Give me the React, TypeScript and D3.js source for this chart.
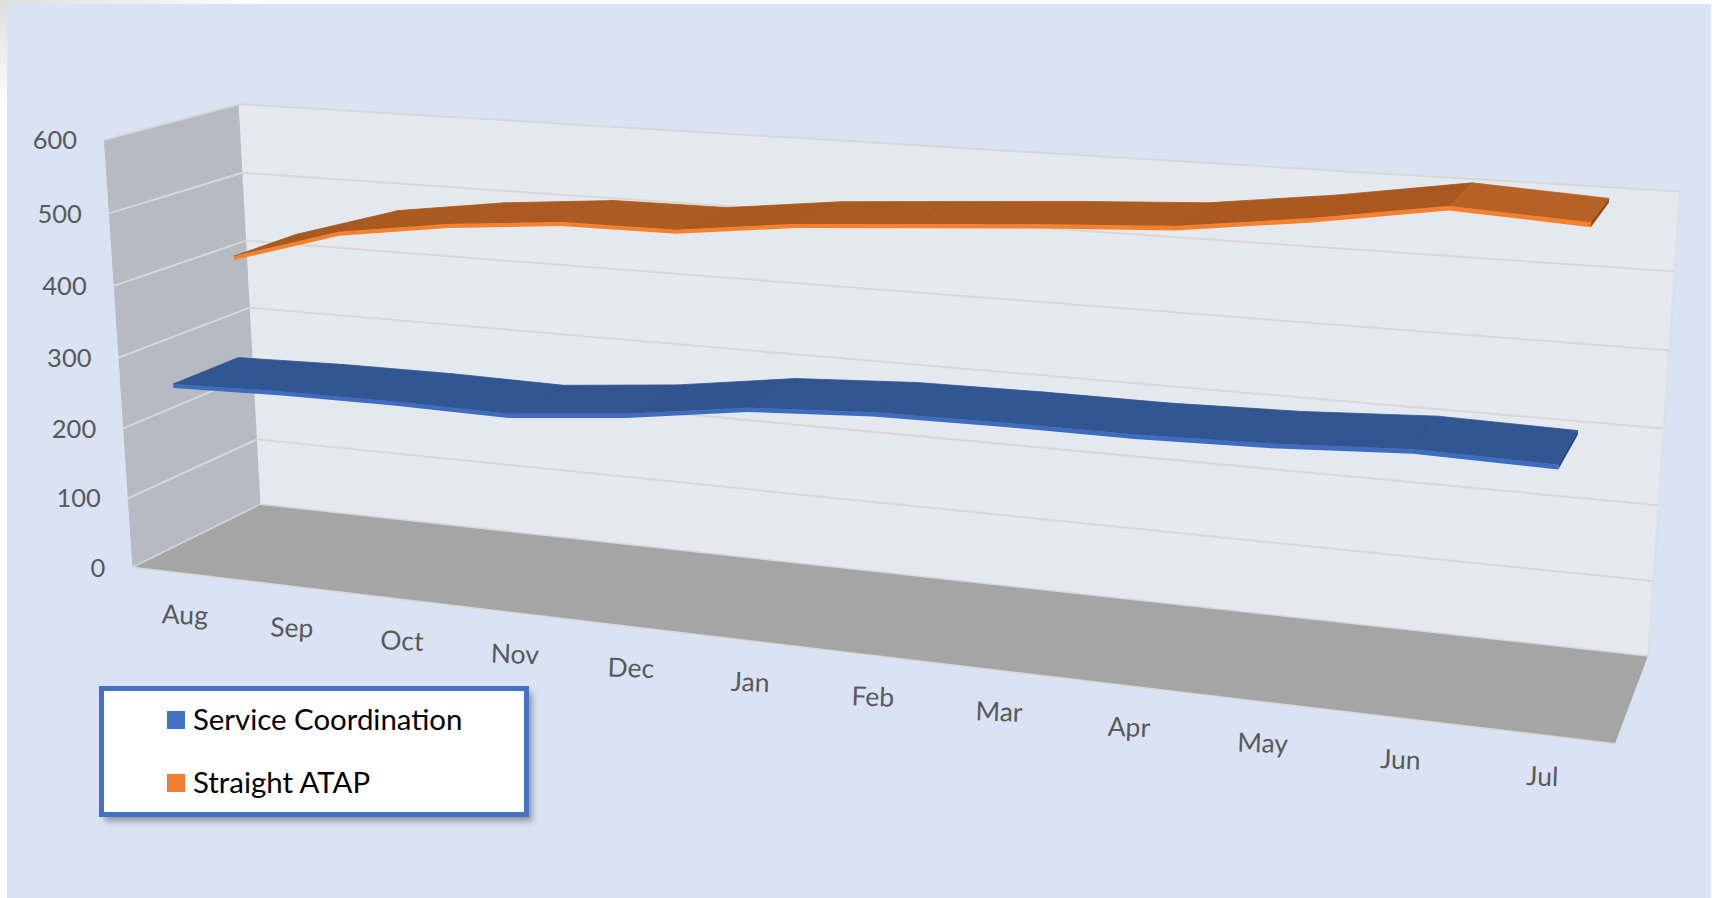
import React from "react";
import * as d3 from "d3";

// ---------- data ----------
const categories = ["Aug", "Sep", "Oct", "Nov", "Dec", "Jan", "Feb", "Mar", "Apr", "May", "Jun", "Jul"];
const serviceCoordination = [270, 274, 275, 273, 288, 311, 320, 322, 322, 326, 335, 332];
const straightAtap = [415, 461, 483, 497, 498, 517, 528, 539, 548, 569, 595, 586];
const valueTicks = [0, 100, 200, 300, 400, 500, 600];
const gridTicks = [100, 200, 300, 400, 500, 600];
const legendLabels = ["Service Coordination", "Straight ATAP"];

// ---------- chart frame: where the 3D box's corners fall on the page ----------
// [category 0..1, value 0..1, depth 0..1] -> [page x, page y]
const frameCorners: [number[], number[]][] = [
  [[0, 1, 0], [104, 140]],
  [[0, 1, 1], [238.6, 104]],
  [[0, 0, 1], [260.5, 504.5]],
  [[0, 0, 0], [132.4, 567]],
  [[1, 1, 1], [1680, 191.5]],
  [[1, 0, 1], [1648, 655.6]],
  [[1, 0, 0], [1615, 744]],
];

function solveCamera(): number[] {
  const rows: number[][] = [];
  const rhs: number[] = [];
  frameCorners.forEach(([[a, b, c], [u, v]]) => {
    rows.push([a, b, c, 1, 0, 0, 0, 0, -u * a, -u * b, -u * c]);
    rhs.push(u);
    rows.push([0, 0, 0, 0, a, b, c, 1, -v * a, -v * b, -v * c]);
    rhs.push(v);
  });
  const n = 11;
  const m: number[][] = d3.range(n).map((i) => [
    ...d3.range(n).map((j) => d3.sum(rows, (r) => r[i] * r[j])),
    d3.sum(rows, (r, k) => r[i] * rhs[k]),
  ]);
  for (let i = 0; i < n; i++) {
    let p = i;
    for (let k = i + 1; k < n; k++) if (Math.abs(m[k][i]) > Math.abs(m[p][i])) p = k;
    [m[i], m[p]] = [m[p], m[i]];
    for (let k = 0; k < n; k++) {
      if (k === i) continue;
      const f = m[k][i] / m[i][i];
      for (let j = i; j <= n; j++) m[k][j] -= f * m[i][j];
    }
  }
  return d3.range(n).map((i) => m[i][n] / m[i][i]);
}
const cam = solveCamera();

const xScale = d3.scalePoint<string>().domain(categories).range([0, 1]).padding(0.5);
const vScale = d3.scaleLinear().domain([0, 600]).range([0, 1]);

// x in 0..1, value in data units, depth in 0..1
function project(x: number, value: number, z: number): [number, number] {
  const y = vScale(value);
  const w = cam[8] * x + cam[9] * y + cam[10] * z + 1;
  return [
    (cam[0] * x + cam[1] * y + cam[2] * z + cam[3]) / w,
    (cam[4] * x + cam[5] * y + cam[6] * z + cam[7]) / w,
  ];
}

const poly = d3.line<[number, number]>().curve(d3.curveLinearClosed);
const seg = d3.line<[number, number]>();

const ribbonThickness = 5.5;
const ribbons = [
  {
    name: legendLabels[0], values: serviceCoordination, z0: 0, z1: 0.49, front: "#3d6cc1", cap: "#26457c",
    shade: d3.scaleLinear<string>().domain([-30, 0, 20]).range(["#31548e", "#325692", "#335691"]).clamp(true),
  },
  {
    name: legendLabels[1], values: straightAtap, z0: 0.5, z1: 1, front: "#f5812f", cap: "#8e4a1a",
    shade: d3.scaleLinear<string>().domain([-30, 0, 8]).range(["#a8591f", "#ad5c22", "#b66125"]).clamp(true),
  },
];

function Ribbon({ r }: { r: (typeof ribbons)[number] }) {
  const xs = categories.map((c) => xScale(c) as number);
  const last = xs.length - 1;
  return (
    <g>
      {d3.range(last).map((i) => (
        <path
          key={i}
          d={poly([
            project(xs[i], r.values[i], r.z0),
            project(xs[i + 1], r.values[i + 1], r.z0),
            project(xs[i + 1], r.values[i + 1], r.z1),
            project(xs[i], r.values[i], r.z1),
          ]) as string}
          fill={r.shade(r.values[i] - r.values[i + 1])}
          stroke={r.shade(r.values[i] - r.values[i + 1])}
          strokeWidth={0.8}
        />
      ))}
      <path
        d={poly([
          project(xs[last], r.values[last], r.z0),
          project(xs[last], r.values[last], r.z1),
          project(xs[last], r.values[last] - ribbonThickness, r.z1),
          project(xs[last], r.values[last] - ribbonThickness, r.z0),
        ]) as string}
        fill={r.cap}
      />
      <path
        d={poly([
          ...xs.map((x, i) => project(x, r.values[i], r.z0)),
          ...xs.map((x, i) => project(x, r.values[i] - ribbonThickness, r.z0)).reverse(),
        ]) as string}
        fill={r.front}
      />
    </g>
  );
}

const GRID = "#d9d7d5";
const LABEL = "#595959";
const FONT = "Lato, 'Open Sans', sans-serif";

export default function App() {
  return (
    <svg
      width={1716}
      height={898}
      style={{ position: "absolute", left: 0, top: 0, display: "block", background: "#fff" }}
    >
      <defs>
        <filter id="legendShadow" x="-10%" y="-10%" width="125%" height="130%">
          <feGaussianBlur stdDeviation="3" />
        </filter>
        <linearGradient id="edgeFade" x1="0" x2="1" y1="0" y2="0">
          <stop offset="0" stopColor="#dedede" />
          <stop offset="1" stopColor="#ffffff" />
        </linearGradient>
        <linearGradient id="edgeFadeV" x1="0" x2="0" y1="0" y2="1">
          <stop offset="0" stopColor="#dedede" />
          <stop offset="1" stopColor="#ffffff" />
        </linearGradient>
      </defs>

      <rect x={0} y={0} width={265} height={4} fill="url(#edgeFade)" />
      <rect x={0} y={0} width={7} height={110} fill="url(#edgeFadeV)" />
      <rect x={7} y={4} width={1704} height={894} fill="#dae3f3" />

      {/* walls and floor */}
      <path d={poly([project(0, 600, 1), project(1, 600, 1), project(1, 0, 1), project(0, 0, 1)]) as string} fill="#e4e9f0" />
      <path d={poly([project(0, 600, 0), project(0, 600, 1), project(0, 0, 1), project(0, 0, 0)]) as string} fill="#b6bbc3" />
      <path d={poly([project(0, 0, 0), project(0, 0, 1), project(1, 0, 1), project(1, 0, 0)]) as string} fill="#a5a5a5" />

      {/* gridlines */}
      {gridTicks.map((v) => (
        <g key={v} fill="none" stroke={GRID} strokeWidth={2}>
          <path d={seg([project(0, v, 0), project(0, v, 1)]) as string} />
          <path d={seg([project(0, v, 1), project(1, v, 1)]) as string} />
        </g>
      ))}
      <g fill="none" stroke="#d9d7d5" strokeWidth={1.6}>
        <path d={seg([project(0, 0, 0), project(0, 0, 1)]) as string} />
        <path d={seg([project(0, 0, 0), project(1, 0, 0)]) as string} />
        <path d={seg([project(0, 0, 1), project(1, 0, 1)]) as string} />
        <path d={seg([project(1, 0, 1), project(1, 600, 1)]) as string} opacity={0.4} />
      </g>

      {/* series, far one first */}
      <Ribbon r={ribbons[1]} />
      <Ribbon r={ribbons[0]} />

      {/* value axis labels */}
      <g fontFamily={FONT} fontSize={25.5} fill={LABEL} textAnchor="end">
        {valueTicks.map((v) => {
          const [px, py] = project(0, v, 0);
          return (
            <text key={v} x={px - 27} y={py} dy="0.36em">
              {v}
            </text>
          );
        })}
      </g>

      {/* category labels */}
      <g fontFamily={FONT} fontSize={26.5} fill={LABEL} textAnchor="middle">
        {categories.map((c) => {
          const [px, py] = project(xScale(c) as number, 0, 0);
          return (
            <text key={c} transform={`translate(${px},${py + 41}) rotate(2)`} dy="0.36em">
              {c}
            </text>
          );
        })}
      </g>

      {/* legend */}
      <rect x={105} y={693} width={427} height={128} fill="#5c6470" opacity={0.65} filter="url(#legendShadow)" />
      <rect x={101.5} y={688.5} width={425} height={126} fill="#fff" stroke="#4472c4" strokeWidth={5} />
      {legendLabels.map((l, i) => (
        <g key={l}>
          <rect x={167} y={711 + i * 63} width={18} height={18} fill={i === 0 ? "#4472c4" : "#ed7d31"} />
          <text x={193} y={719 + i * 63} dy="0.36em" fontFamily={FONT} fontSize={29.4} fill="#000">
            {l}
          </text>
        </g>
      ))}
    </svg>
  );
}
